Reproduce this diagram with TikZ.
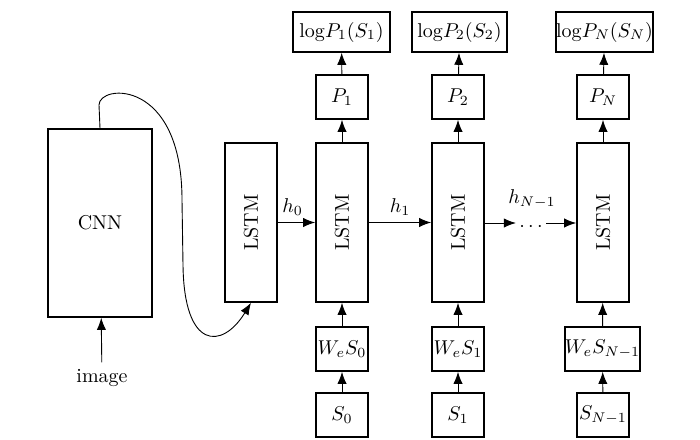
\documentclass[tikz,border=0pt]{standalone}
\usetikzlibrary{arrows.meta, positioning}

\begin{document}
\begin{tikzpicture}[x=0.5pt, y=-0.5pt,
    box/.style={draw, line width=0.8pt, inner sep=0pt, minimum width=26pt, minimum height=22pt},
    tall/.style={box, minimum height=79.5pt},
    arr/.style={-{Latex[length=6pt,width=4.6pt]}, line width=0.45pt}]
    \useasboundingbox (0,0) rectangle (700,439);

    % CNN
    \node[box, minimum width=52pt, minimum height=94pt] (cnn) at (100,223) {CNN};
    \node (img) at (102,378) {image};

    % LSTM
    \node[tall] (lstm0) at (251,222.5) {\rotatebox{90}{LSTM}};
    \node[tall] (lstm1) at (342,222.5) {\rotatebox{90}{LSTM}};
    \node[tall] (lstm2) at (458,222.5) {\rotatebox{90}{LSTM}};
    \node[tall] (lstmN) at (603,222.5) {\rotatebox{90}{LSTM}};
    \node[inner sep=1.5pt] (dots) at (531,227) {$\cdots$};
    \node (hN) at (532,199) {$h_{N-1}$};

    % Outputs
    \node[box] (p1) at (342,97) {$P_1$};
    \node[box] (p2) at (458,97) {$P_2$};
    \node[box] (pN) at (603,97) {$P_N$};
    \node[box, minimum width=48.5pt, minimum height=20pt] (log1) at (341.5,32) {$\mathrm{log}P_1(S_1)$};
    \node[box, minimum width=47.5pt, minimum height=20pt] (log2) at (459.5,32) {$\mathrm{log}P_2(S_2)$};
    \node[box, minimum width=47.5pt, minimum height=20pt] (logN) at (604.5,32) {$\mathrm{log}P_N(S_N)$};

    % Inputs
    \node[box] (we0) at (342,349) {$W_eS_0$};
    \node[box] (we1) at (458,349) {$W_eS_1$};
    \node[box, minimum width=36.5pt] (weN) at (602.5,349) {$W_eS_{N-1}$};
    \node[box] (s0) at (342,415) {$S_0$};
    \node[box] (s1) at (458,415) {$S_1$};
    \node[box] (sN) at (603,415) {$S_{N-1}$};

    % Connectors
    \draw[arr] (img) -- (cnn);
    \draw[arr] (cnn.north) -- (99,105) .. controls (99,84) and (182,78) .. (182,200)
        -- (183,265) .. controls (184,350) and (222,350) .. (lstm0.south);
    \draw[arr] (lstm0) -- node[above, xshift=-2pt] {$h_0$} (lstm1);
    \draw[arr] (lstm1) -- node[above] {$h_1$} (lstm2);
    \draw[arr] (lstm2.east |- dots) ++(0,-4) coordinate (d0) -- (dots.west |- d0);
    \draw[arr] (dots.east |- d0) -- (lstmN.west |- d0);

    \draw[arr] (s0) -- (we0);
    \draw[arr] (s1) -- (we1);
    \draw[arr] (sN) -- (weN);
    \draw[arr] (we0) -- (lstm1);
    \draw[arr] (we1) -- (lstm2);
    \draw[arr] (weN) -- (lstmN);
    \draw[arr] (lstm1) -- (p1);
    \draw[arr] (lstm2) -- (p2);
    \draw[arr] (lstmN) -- (pN);
    \draw[arr] (p1) -- (log1);
    \draw[arr] (p2) -- (log2);
    \draw[arr] (pN) -- (logN);
\end{tikzpicture}
\end{document}
